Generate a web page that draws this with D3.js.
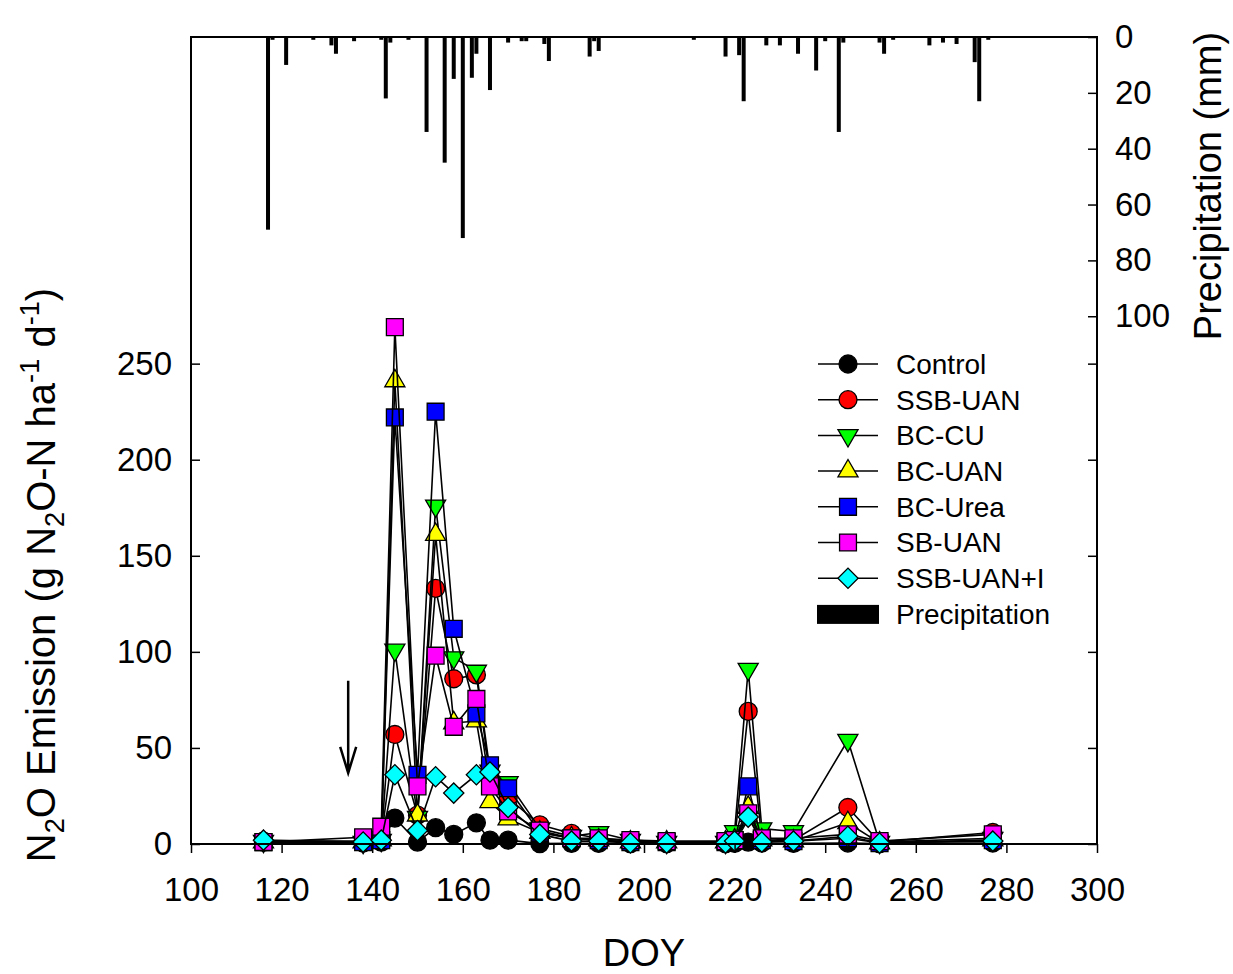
<!DOCTYPE html>
<html>
<head>
<meta charset="utf-8">
<script src="https://cdn.jsdelivr.net/npm/d3@7"></script>
<style>
body { margin: 0; background: #fff; }
text { font-family: "Liberation Sans", Arial, sans-serif; fill: #000; }
</style>
</head>
<body>
<svg width="1233" height="974"></svg>
<script>
// sampling days (DOY)
var doy = [116, 138, 142, 145, 150, 154, 158, 163, 166, 170, 177, 184, 190, 197, 205, 218, 220, 223, 226, 233, 245, 252, 277];

// N2O emission, g N2O-N ha-1 d-1
var control = [1.0, 0.5, 1.0, 13.5, 1.0, 8.5, 5.0, 11, 2.0, 2.0, 0.2, 0.3, 0.3, 0.2, 0.2, 0.2, 0.3, 1.0, 0.5, 0.3, 0.5, 0.2, 0.5];
var ssbUan  = [1.5, 1.5, 3, 57, 15, 133, 86, 88, 35, 24, 10, 5.5, 3, 1.5, 1, 1, 2, 69, 3, 2, 19, 1, 6];
var bcCu    = [1.5, 1, 2, 101, 14, 176, 97, 90, 38, 32, 8, 4, 6, 2, 1, 1, 6.5, 91, 8, 6.5, 54, 1, 3];
var bcUan   = [1, 1, 2, 241, 15, 161, 63, 64, 22, 13, 6, 3, 2, 1, 1, 1, 2, 19, 2, 1.5, 11, 0.5, 2];
var bcUrea  = [1, 1, 2, 222, 36, 225, 112, 68, 41, 29, 6, 3, 2, 1, 1, 1, 2, 30, 2, 1.5, 3, 0.5, 2];
var sbUan   = [1, 3.5, 9, 269, 30, 98, 61, 75.5, 30, 17, 7, 3, 3, 2, 1.5, 1.5, 2, 16, 3, 3, 5, 1.5, 5];
var ssbUanI = [2, 1, 2, 36, 7, 35, 26.5, 36, 37.5, 19, 5, 1.5, 1.5, 0.5, 0.5, 0.5, 1.5, 14, 1, 1.5, 4, 0.5, 1.5];

// daily precipitation, mm
var rainDay = [117, 118, 121, 127, 131, 132, 136, 142, 143, 144, 148, 152, 156, 158, 160, 162, 163, 166, 170, 173, 174, 178, 179, 188, 189, 190,
               211, 218, 221, 222, 227, 230, 234, 238, 240, 243, 244, 252, 253, 255, 263, 266, 269, 273, 274, 276];
var rainMm  = [69, 1, 10, 1, 3, 6, 1.5, 1, 22, 2, 1, 34, 45, 15, 72, 14.6, 6, 19, 2, 1.5, 1.5, 2.5, 8.6, 7, 1.5, 5,
               1, 7, 6.5, 23, 3, 3, 6, 12, 1.5, 34, 2, 2, 6, 1, 3, 2, 2.5, 9, 23, 1];

var xTicks = [100, 120, 140, 160, 180, 200, 220, 240, 260, 280, 300];
var yTicks = [0, 50, 100, 150, 200, 250];
var pTicks = [0, 20, 40, 60, 80, 100];

// fertilizer date arrow (DOY, emission from/to)
var arrowDoy = 134.7, arrowFrom = 85, arrowTo = 37;

var series = [
    {name: "Control",   vals: control, fill: "#000000", shape: "circle"},
    {name: "SSB-UAN",   vals: ssbUan,  fill: "#ff0000", shape: "circle"},
    {name: "BC-CU",     vals: bcCu,    fill: "#00ff00", shape: "tridown"},
    {name: "BC-UAN",    vals: bcUan,   fill: "#ffff00", shape: "triup"},
    {name: "BC-Urea",   vals: bcUrea,  fill: "#0000ff", shape: "square"},
    {name: "SB-UAN",    vals: sbUan,   fill: "#ff00ff", shape: "square"},
    {name: "SSB-UAN+I", vals: ssbUanI, fill: "#00ffff", shape: "diamond"}
];

const svg = d3.select("svg");
const pLeft = 191, pRight = 1097, pTop = 37, pBottom = 844;

const x = d3.scaleLinear().domain([100, 300]).range([pLeft, pRight]);
const y = d3.scaleLinear().domain([0, 420]).range([pBottom, pTop]);
const yP = d3.scaleLinear().domain([0, 289]).range([pTop, pBottom]);

const symbolPath = {
    circle:  d3.symbol(d3.symbolCircle, 254)(),
    triup:   d3.symbol(d3.symbolTriangle, 175)(),
    tridown: d3.symbol(d3.symbolTriangle, 175)(),
    square:  d3.symbol(d3.symbolSquare, 285)(),
    diamond: d3.symbol(d3.symbolSquare, 205)()
};
const symbolRot = {circle: 0, triup: 0, tridown: 180, square: 0, diamond: 45};

// precipitation bars hanging from the top
svg.append("g")
    .selectAll("rect")
    .data(rainDay.map((d, i) => ({d: d, mm: rainMm[i]})))
    .enter().append("rect")
    .attr("x", d => x(d.d) - 2)
    .attr("y", pTop)
    .attr("width", 4)
    .attr("height", d => yP(d.mm) - pTop)
    .attr("fill", "#000");

// series
series.forEach(s => {
    const pts = doy.map((d, i) => [d, s.vals[i]]);
    const g = svg.append("g");
    g.append("path")
        .attr("d", d3.line().x(p => x(p[0])).y(p => y(p[1]))(pts))
        .attr("fill", "none")
        .attr("stroke", "#000")
        .attr("stroke-width", 1.6);
    g.selectAll("path.m")
        .data(pts)
        .enter().append("path")
        .attr("class", "m")
        .attr("d", symbolPath[s.shape])
        .attr("transform", p => "translate(" + x(p[0]) + "," + y(p[1]) + ") rotate(" + symbolRot[s.shape] + ")")
        .attr("fill", s.fill)
        .attr("stroke", "#000")
        .attr("stroke-width", 1.3);
});

// axes
const axisStyle = g => {
    g.select(".domain").remove();
    g.selectAll(".tick line").attr("stroke", "#000").attr("stroke-width", 1.5);
    g.selectAll(".tick text").style("font-size", "33px").attr("fill", "#000");
};

svg.append("g")
    .attr("transform", "translate(" + pLeft + ",0)")
    .call(d3.axisLeft(y).tickValues(yTicks).tickSizeInner(-9).tickSizeOuter(0).tickPadding(19))
    .call(axisStyle);

svg.append("g")
    .attr("transform", "translate(" + pRight + ",0)")
    .call(d3.axisRight(y).tickValues(yTicks).tickSizeInner(-9).tickSizeOuter(0).tickFormat(""))
    .call(axisStyle);

svg.append("g")
    .attr("transform", "translate(" + pRight + ",0)")
    .call(d3.axisRight(yP).tickValues(pTicks).tickSizeInner(-9).tickSizeOuter(0).tickPadding(18))
    .call(axisStyle);

svg.append("g")
    .attr("transform", "translate(0," + pBottom + ")")
    .call(d3.axisBottom(x).tickValues(xTicks).tickSizeInner(9).tickSizeOuter(0).tickPadding(25))
    .call(axisStyle);

// frame
svg.append("rect")
    .attr("x", pLeft).attr("y", pTop)
    .attr("width", pRight - pLeft).attr("height", pBottom - pTop)
    .attr("fill", "none").attr("stroke", "#000").attr("stroke-width", 2);

// arrow
const ax = x(arrowDoy), a0 = y(arrowFrom), a1 = y(arrowTo);
svg.append("path")
    .attr("d", "M" + ax + "," + a0 + "L" + ax + "," + a1 +
               "M" + (ax - 8) + "," + (a1 - 26) + "L" + ax + "," + a1 + "L" + (ax + 8) + "," + (a1 - 26))
    .attr("fill", "none").attr("stroke", "#000").attr("stroke-width", 2.5);

// titles
function richText(t, parts, fs) {
    let shift = 0;
    parts.forEach(p => {
        const target = p.sub ? fs * 0.22 : p.sup ? -fs * 0.4 : 0;
        t.append("tspan")
            .attr("dy", target - shift)
            .style("font-size", (p.sub || p.sup ? fs * 0.68 : fs) + "px")
            .text(p.t);
        shift = target;
    });
}

svg.append("text")
    .attr("x", 644).attr("y", 966)
    .attr("text-anchor", "middle")
    .style("font-size", "38px")
    .text("DOY");

const yt = svg.append("text")
    .attr("transform", "translate(55,575) rotate(-90)")
    .attr("text-anchor", "middle")
    .style("font-size", "40px");
richText(yt, [{t: "N"}, {t: "2", sub: true}, {t: "O Emission (g N"}, {t: "2", sub: true},
              {t: "O-N ha"}, {t: "-1", sup: true}, {t: " d"}, {t: "-1", sup: true}, {t: ")"}], 40);

svg.append("text")
    .attr("transform", "translate(1221,186) rotate(-90)")
    .attr("text-anchor", "middle")
    .style("font-size", "38px")
    .text("Precipitation (mm)");

// legend
const legend = svg.append("g").attr("transform", "translate(818,364)");
series.forEach((s, i) => {
    const g = legend.append("g").attr("transform", "translate(0," + i * 35.7 + ")");
    g.append("line").attr("x1", 0).attr("x2", 60).attr("stroke", "#000").attr("stroke-width", 1.5);
    g.append("path")
        .attr("d", symbolPath[s.shape])
        .attr("transform", "translate(30,0) rotate(" + symbolRot[s.shape] + ")")
        .attr("fill", s.fill).attr("stroke", "#000").attr("stroke-width", 1.3);
    g.append("text").attr("x", 78).attr("dy", "0.35em").style("font-size", "28px").text(s.name);
});
const pg = legend.append("g").attr("transform", "translate(0," + 7 * 35.7 + ")");
pg.append("rect").attr("x", -1).attr("y", -9).attr("width", 62).attr("height", 19).attr("fill", "#000");
pg.append("text").attr("x", 78).attr("dy", "0.35em").style("font-size", "28px").text("Precipitation");
</script>
</body>
</html>
